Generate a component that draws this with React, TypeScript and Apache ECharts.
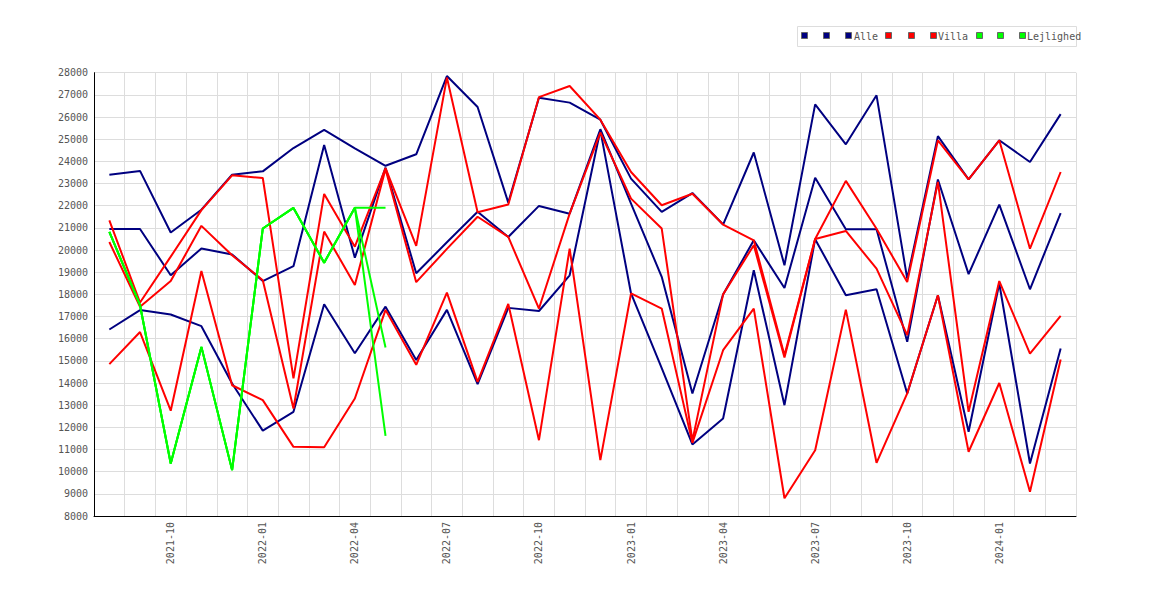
import React, { useEffect, useRef } from "react";
import * as echarts from "echarts";

const months: string[] = [
  "2021-08", "2021-09", "2021-10", "2021-11", "2021-12",
  "2022-01", "2022-02", "2022-03", "2022-04", "2022-05", "2022-06", "2022-07",
  "2022-08", "2022-09", "2022-10", "2022-11", "2022-12",
  "2023-01", "2023-02", "2023-03", "2023-04", "2023-05", "2023-06", "2023-07",
  "2023-08", "2023-09", "2023-10", "2023-11", "2023-12",
  "2024-01", "2024-02", "2024-03",
];

const alleHigh: number[] = [
  23400, 23570, 20790, 21820, 23400, 23550, 24600, 25420, 24590, 23800, 24320, 27850,
  26450, 22140, 26870, 26650, 25880, 23220, 21720, 22570, 21150, 24400, 19310, 26570,
  24770, 26980, 18710, 25140, 23190, 24950, 23970, 26130,
];
const alleMid: number[] = [
  20950, 20950, 18860, 20070, 19800, 18600, 19270, 24740, 19655, 23715, 18950, 20350,
  21730, 20590, 21990, 21640, 25450, 22090, 18790, 13530, 17990, 20440, 18290, 23260,
  20940, 20940, 15860, 23180, 18910, 22050, 18230, 21670,
];
const alleLow: number[] = [
  16415, 17290, 17090, 16565, 13980, 11850, 12700, 17555, 15345, 17445, 15040, 17300,
  13950, 17390, 17250, 18860, 25400, 18040, 14670, 11230, 12400, 19090, 13000, 20490,
  17960, 18230, 13530, 17960, 11800, 18490, 10370, 15560,
];

const villaHigh: number[] = [
  21340, 17630, 19700, 21800, 23370, 23250, 14210, 22530, 20150, 23700, 20190, 27780,
  21700, 22050, 26900, 27400, 25880, 23520, 22020, 22540, 21150, 20440, 15250, 20500,
  23120, 20960, 18560, 24950, 23190, 24950, 20060, 23520,
];
const villaMid: number[] = [
  20360, 17440, 18600, 21090, 19760, 18640, 12850, 20830, 18425, 23650, 18550, 20050,
  21500, 20590, 17360, 21640, 25300, 22320, 20970, 11400, 18000, 20215, 15150, 20500,
  20860, 19160, 16160, 23070, 12700, 18600, 15330, 17030,
];
const villaLow: number[] = [
  14850, 16300, 12750, 19050, 13900, 13230, 11120, 11100, 13300, 17300, 14820, 18080,
  14050, 17570, 11420, 20060, 10520, 18040, 17360, 11300, 15480, 17360, 8800, 10970,
  17310, 10400, 13530, 17960, 10900, 14000, 9090, 15060,
];

const lejHigh: (number | null)[] = [
  20820, 17510, 10370, 15630, 10070, 20970, 21900, 19430, 21910, 21910,
];
const lejMid: (number | null)[] = [
  20820, 17510, 10370, 15630, 10070, 20970, 21900, 19430, 21910, 15600,
];
const lejLow: (number | null)[] = [
  20820, 17510, 10370, 15630, 10070, 20970, 21900, 19430, 21910, 11610,
];

const legendGroups = [
  { label: "Alle", color: "#000080" },
  { label: "Villa", color: "#ff0000" },
  { label: "Lejlighed", color: "#00ff00" },
];

const FONT = "'DejaVu Sans Mono', monospace";

function pad(arr: (number | null)[]): (number | null)[] {
  const out = arr.slice();
  while (out.length < months.length) out.push(null);
  return out;
}

export default function App() {
  const ref = useRef<HTMLDivElement>(null);

  useEffect(() => {
    document.body.style.margin = "0";
    if (!ref.current) return;
    const chart = echarts.init(ref.current, undefined, { renderer: "svg" });

    const mk = (name: string, data: (number | null)[], color: string) => ({
      name,
      type: "line",
      data,
      showSymbol: false,
      symbol: "none",
      connectNulls: false,
      lineStyle: { color, width: 2 },
      itemStyle: { color },
      emphasis: { disabled: true },
    });

    // Legend drawn as graphic (icon positions like the reference)
    const iconXs = [801, 823, 845, 885, 908, 930, 976, 997, 1019];
    const textXs = [854, 938, 1027];
    const graphics: any[] = [
      {
        type: "rect",
        shape: { x: 797.5, y: 26.5, width: 279, height: 20 },
        style: { fill: "#ffffff", stroke: "#dddddd", lineWidth: 1 },
        z: 10,
      },
    ];
    iconXs.forEach((x, i) => {
      const g = legendGroups[Math.floor(i / 3)];
      graphics.push({
        type: "rect",
        shape: { x: x + 0.5, y: 32.5, width: 6, height: 6 },
        style: { fill: g.color, stroke: "#666666", lineWidth: 1 },
        z: 11,
      });
    });
    textXs.forEach((x, i) => {
      graphics.push({
        type: "text",
        x,
        y: 36,
        style: {
          text: legendGroups[i].label,
          fill: "#555555",
          font: `10px ${FONT}`,
          verticalAlign: "middle",
          align: "left",
        },
        z: 11,
      });
    });

    chart.setOption({
      animation: false,
      backgroundColor: "#ffffff",
      textStyle: { fontFamily: FONT },
      grid: {
        left: 94,
        right: 94,
        top: 72.7,
        bottom: 84,
        containLabel: false,
        outerBoundsMode: "none",
      },
      xAxis: {
        type: "category",
        data: months,
        boundaryGap: true,
        axisLine: { show: true, lineStyle: { color: "#000000", width: 1 } },
        axisTick: { show: false, interval: 0 },
        axisLabel: {
          interval: (idx: number) => idx % 3 === 2,
          rotate: 90,
          margin: 6,
          color: "#555555",
          fontSize: 10,
          fontFamily: FONT,
        },
        splitLine: { show: true, interval: 0, lineStyle: { color: "#dddddd", width: 1 } },
      },
      yAxis: {
        type: "value",
        min: 8000,
        max: 28000,
        interval: 1000,
        axisLine: { show: true, lineStyle: { color: "#000000", width: 1 } },
        axisTick: { show: false },
        axisLabel: {
          margin: 6,
          color: "#555555",
          fontSize: 10,
          fontFamily: FONT,
          formatter: (v: number) => String(v),
        },
        splitLine: { show: true, lineStyle: { color: "#dddddd", width: 1 } },
      },
      legend: { show: false },
      series: [
        mk("Alle (høj)", alleHigh, "#000080"),
        mk("Alle (mellem)", alleMid, "#000080"),
        mk("Alle", alleLow, "#000080"),
        mk("Villa (høj)", villaHigh, "#ff0000"),
        mk("Villa (mellem)", villaMid, "#ff0000"),
        mk("Villa", villaLow, "#ff0000"),
        mk("Lejlighed (høj)", pad(lejHigh), "#00ff00"),
        mk("Lejlighed (mellem)", pad(lejMid), "#00ff00"),
        mk("Lejlighed", pad(lejLow), "#00ff00"),
      ],
      graphic: graphics,
    });

    return () => {
      chart.dispose();
    };
  }, []);

  return <div ref={ref} style={{ width: 1170, height: 600 }} />;
}
